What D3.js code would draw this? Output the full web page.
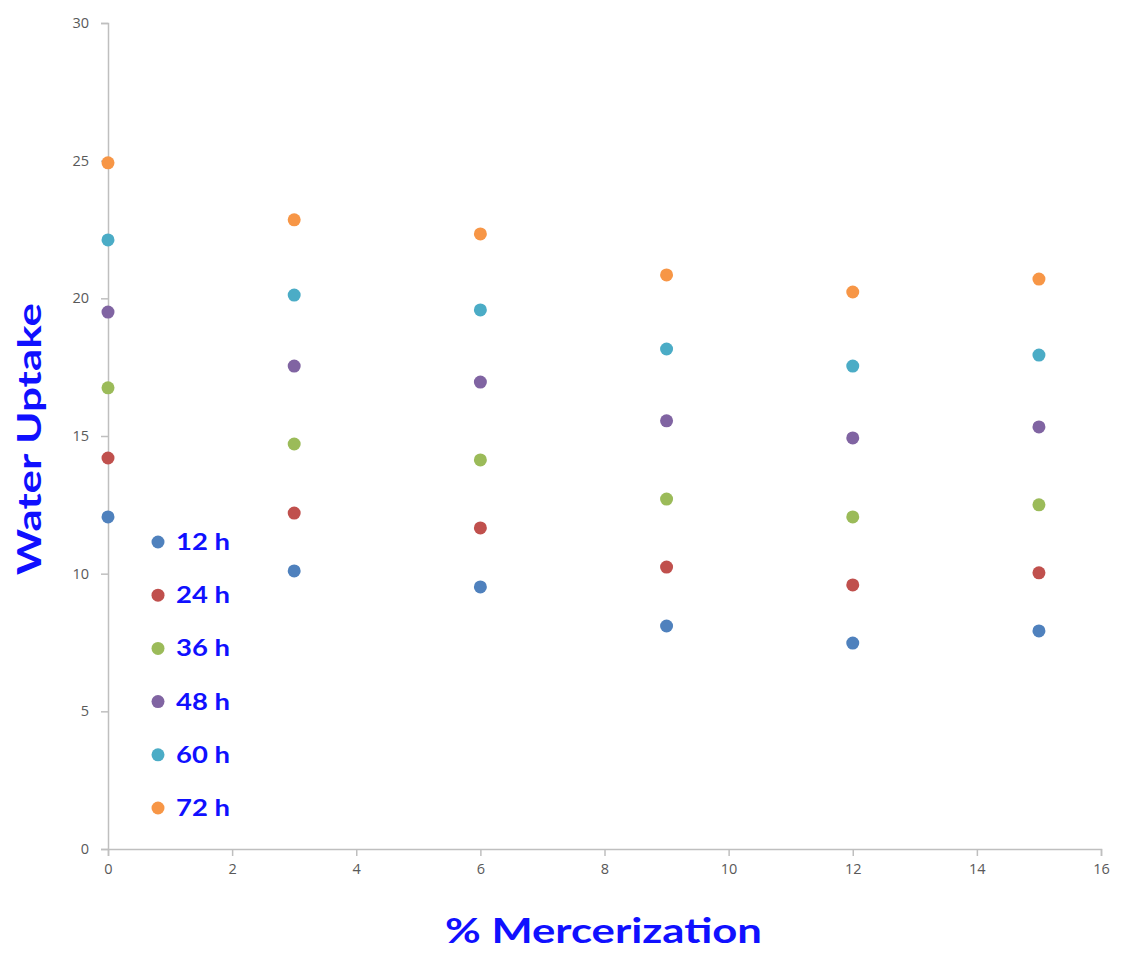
<!DOCTYPE html>
<html><head><meta charset="utf-8">
<script src="https://cdn.jsdelivr.net/npm/d3@7"></script>
<style>body{margin:0;background:#fff;}</style>
</head><body>
<svg id="c" width="1121" height="956"></svg>
<script>
const mercerization = [0, 3, 6, 9, 12, 15];
const seriesNames = ["12 h", "24 h", "36 h", "48 h", "60 h", "72 h"];
const s12 = [12.06, 10.1, 9.52, 8.1, 7.48, 7.92];
const s24 = [14.2, 12.2, 11.66, 10.24, 9.59, 10.03];
const s36 = [16.75, 14.71, 14.13, 12.71, 12.06, 12.5];
const s48 = [19.5, 17.54, 16.96, 15.55, 14.93, 15.33];
const s60 = [22.12, 20.12, 19.58, 18.16, 17.54, 17.94];
const s72 = [24.92, 22.85, 22.34, 20.85, 20.23, 20.7];
const colors = ["#4f81bd", "#c0504d", "#9bbb59", "#8064a2", "#4bacc6", "#f79646"];
const xTicks = [0, 2, 4, 6, 8, 10, 12, 14, 16];
const yTicks = [0, 5, 10, 15, 20, 25, 30];
const allSeries = [s12, s24, s36, s48, s60, s72];

const svg = d3.select("#c");
const x = d3.scaleLinear().domain([0, 16]).range([108, 1101]);
const y = d3.scaleLinear().domain([0, 30]).range([849, 23]);
const tickFont = "'Open Sans', 'Liberation Sans', sans-serif";
const titleFont = "Lato, 'Open Sans', sans-serif";
const blue = "#1010ff";

const xa = svg.append("g").attr("transform", "translate(0,849)")
  .call(d3.axisBottom(x).tickValues(xTicks).tickSize(7).tickPadding(8).tickFormat(d3.format("d")));
const ya = svg.append("g").attr("transform", "translate(108,0)")
  .call(d3.axisLeft(y).tickValues(yTicks).tickSize(7).tickPadding(12).tickFormat(d3.format("d")));
[xa, ya].forEach(a => {
  a.selectAll("path,line").attr("stroke", "#bfbfbf").attr("stroke-width", 1.5);
  a.selectAll("text").attr("fill", "#595959").style("font-family", tickFont).style("font-size", "14.5px");
});

allSeries.forEach((s, i) => {
  svg.append("g").selectAll("circle").data(s).join("circle")
    .attr("cx", (d, j) => x(mercerization[j]))
    .attr("cy", d => y(d))
    .attr("r", 6.5)
    .attr("fill", colors[i]);
});

// legend
const lg = svg.append("g");
seriesNames.forEach((n, i) => {
  const yy = 542 + i * 53.2;
  lg.append("circle").attr("cx", 158).attr("cy", yy).attr("r", 6.5).attr("fill", colors[i]);
  lg.append("text").attr("x", 176).attr("y", yy + 8)
    .attr("textLength", 54).attr("lengthAdjust", "spacingAndGlyphs")
    .attr("fill", blue).style("font-family", titleFont).style("font-weight", "bold").style("font-size", "23px")
    .text(n);
});

svg.append("text").attr("x", 445).attr("y", 943)
  .attr("textLength", 317).attr("lengthAdjust", "spacingAndGlyphs")
  .attr("fill", blue).style("font-family", titleFont).style("font-weight", "bold").style("font-size", "35px")
  .text("% Mercerization");
svg.append("text").attr("transform", "translate(41,575) rotate(-90)")
  .attr("textLength", 272).attr("lengthAdjust", "spacingAndGlyphs")
  .attr("fill", blue).style("font-family", titleFont).style("font-weight", "bold").style("font-size", "32px")
  .text("Water Uptake");
</script>
</body></html>
